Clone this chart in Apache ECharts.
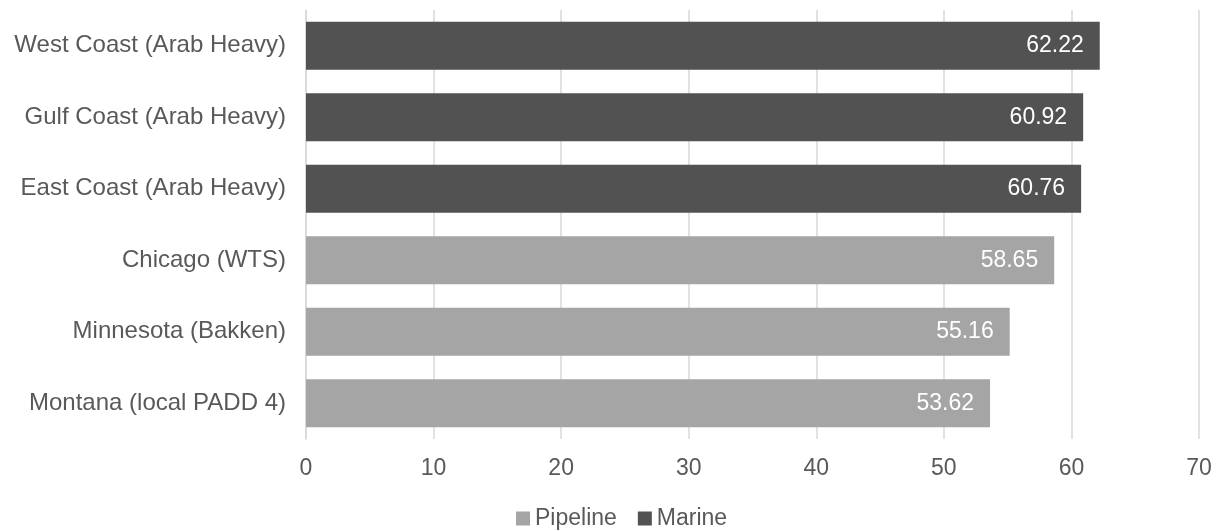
<!DOCTYPE html>
<html>
<head>
<meta charset="utf-8">
<script src="https://cdn.jsdelivr.net/npm/echarts@6/dist/echarts.min.js"></script>
<style>html,body{margin:0;padding:0;background:#fff}#c{width:1217px;height:531px}</style>
</head>
<body>
<div id="c"></div>
<script>
const categories = ["West Coast (Arab Heavy)", "Gulf Coast (Arab Heavy)", "East Coast (Arab Heavy)", "Chicago (WTS)", "Minnesota (Bakken)", "Montana (local PADD 4)"];
const pipeline = ['-', '-', '-', 58.65, 55.16, 53.62];
const marine = [62.22, 60.92, 60.76, '-', '-', '-'];
const xTicks = { min: 0, max: 70, interval: 10 };

const font = 'Liberation Sans, Arial, sans-serif';
const chart = echarts.init(document.getElementById('c'), null, { renderer: 'canvas' });
const label = {
  show: true, position: 'insideRight', distance: 16, color: '#ffffff',
  fontSize: 23, fontFamily: font,
  formatter: p => p.value.toFixed(2)
};
chart.setOption({
  animation: false,
  textStyle: { fontFamily: font },
  grid: { left: 306, right: 18, top: 10, bottom: 92, containLabel: false },
  legend: {
    top: 502, left: 511, itemWidth: 14, itemHeight: 14, itemGap: 21,
    icon: 'rect',
    textStyle: { fontSize: 23, color: '#595959', fontFamily: font },
    data: ['Pipeline', 'Marine']
  },
  xAxis: {
    type: 'value', min: xTicks.min, max: xTicks.max, interval: xTicks.interval,
    axisLine: { show: false }, axisTick: { show: false },
    splitLine: { lineStyle: { color: '#d9d9d9', width: 1.5 } },
    axisLabel: { fontSize: 23, color: '#595959', margin: 18, fontFamily: font }
  },
  yAxis: {
    type: 'category', data: categories, inverse: true,
    axisLine: { show: true, lineStyle: { color: '#d9d9d9', width: 1.5 } },
    axisTick: { show: false },
    axisLabel: { fontSize: 24, color: '#595959', margin: 20, fontFamily: font }
  },
  series: [
    { name: 'Pipeline', type: 'bar', stack: 't', data: pipeline, barCategoryGap: '33%',
      itemStyle: { color: '#a5a5a5' }, label },
    { name: 'Marine', type: 'bar', stack: 't', data: marine, barCategoryGap: '33%',
      itemStyle: { color: '#525252' }, label }
  ]
});
</script>
</body>
</html>
